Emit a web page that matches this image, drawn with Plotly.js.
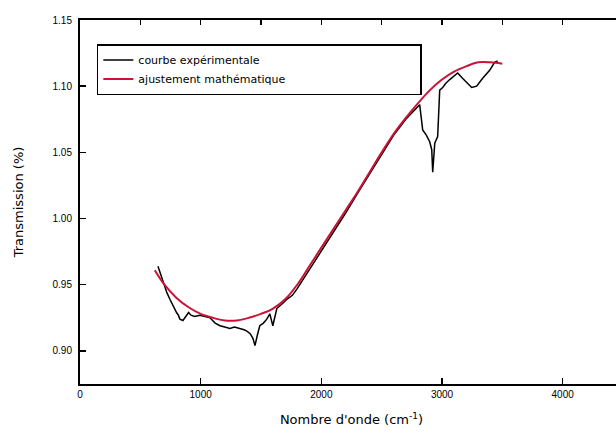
<!DOCTYPE html>
<html>
<head>
<meta charset="utf-8">
<script src="https://cdn.plot.ly/plotly-3.0.1.min.js"></script>
<style>
html,body{margin:0;padding:0;overflow:hidden;background:#fff;}
#chart{width:640px;height:435px;}
</style>
</head>
<body>
<div id="chart"></div>
<script>
// Experimental curve
var expX = [646, 660, 680, 700, 720, 745, 770, 785, 800, 815, 828, 853, 878, 900, 920, 950, 994, 1040, 1077, 1120, 1160, 1200, 1242, 1280, 1325, 1360, 1383, 1410, 1433, 1450, 1470, 1490, 1520, 1548, 1573, 1598, 1631, 1660, 1681, 1714, 1760, 1800, 1850, 1900, 1950, 2000, 2100, 2200, 2300, 2400, 2500, 2600, 2700, 2760, 2800, 2815, 2840, 2870, 2898, 2915, 2923, 2940, 2964, 2981, 3006, 3030, 3064, 3089, 3130, 3170, 3204, 3246, 3287, 3337, 3395, 3436, 3461];
var expY = [0.964, 0.960, 0.954, 0.948, 0.944, 0.939, 0.934, 0.931, 0.929, 0.927, 0.924, 0.923, 0.926, 0.929, 0.927, 0.926, 0.927, 0.926, 0.925, 0.921, 0.919, 0.918, 0.917, 0.918, 0.917, 0.916, 0.915, 0.913, 0.9095, 0.904, 0.912, 0.919, 0.921, 0.924, 0.928, 0.919, 0.932, 0.934, 0.936, 0.939, 0.942, 0.947, 0.954, 0.962, 0.969, 0.976, 0.990, 1.004, 1.019, 1.034, 1.049, 1.063, 1.075, 1.081, 1.085, 1.086, 1.067, 1.063, 1.058, 1.052, 1.035, 1.057, 1.062, 1.097, 1.099, 1.102, 1.105, 1.107, 1.110, 1.106, 1.103, 1.099, 1.100, 1.106, 1.112, 1.118, 1.119];
// Mathematical fit
var fitX = [620, 700, 800, 900, 1000, 1100, 1200, 1300, 1400, 1500, 1600, 1700, 1800, 1900, 2000, 2100, 2200, 2300, 2400, 2500, 2600, 2700, 2800, 2900, 3000, 3100, 3200, 3300, 3400, 3500];
var fitY = [0.961, 0.950, 0.940, 0.933, 0.928, 0.925, 0.923, 0.923, 0.925, 0.928, 0.932, 0.939, 0.950, 0.964, 0.978, 0.992, 1.006, 1.020, 1.035, 1.050, 1.064, 1.076, 1.087, 1.097, 1.105, 1.111, 1.115, 1.118, 1.118, 1.117];
var seriesNames = ["courbe expérimentale", "ajustement mathématique"];
var xTitle = "Nombre d'onde (cm<sup>-1</sup>)";
var yTitle = "Transmission (%)";

// pad legend labels so the boxed legend spans like the reference
var pad = new Array(38).join('\u00a0');

var traces = [
  {x: expX, y: expY, type: 'scatter', mode: 'lines', name: seriesNames[0] + pad,
   line: {color: '#000000', width: 1.5}},
  {x: fitX, y: fitY, type: 'scatter', mode: 'lines', name: seriesNames[1] + pad,
   line: {color: '#cc1236', width: 2, shape: 'spline'}},
  {x: [null], y: [null], xaxis: 'x2', showlegend: false, hoverinfo: 'skip'}
];

var tickFont = {family: 'Liberation Sans, Arial, sans-serif', size: 10, color: '#000'};
var layout = {
  width: 640, height: 435,
  margin: {l: 80, r: 17, t: 20, b: 51},
  paper_bgcolor: '#fff', plot_bgcolor: '#fff',
  showlegend: true,
  legend: {x: 0.031, y: 0.934, xanchor: 'left', yanchor: 'top',
    bordercolor: '#000', borderwidth: 1.5, bgcolor: '#fff',
    font: {family: 'DejaVu Sans, sans-serif', size: 11, color: '#000'}},
  xaxis: {range: [0, 4500], tick0: 0, dtick: 1000, ticks: 'inside', ticklen: 6,
    tickwidth: 1.5, tickcolor: '#000', showline: true, linecolor: '#000', linewidth: 2,
    showgrid: false, zeroline: false, tickfont: tickFont,
    title: {text: xTitle, font: {family: 'DejaVu Sans, sans-serif', size: 13, color: '#000'}, standoff: 16}},
  xaxis2: {overlaying: 'x', side: 'top', range: [0, 4500], tick0: 0, dtick: 500,
    ticks: 'inside', ticklen: 5, tickwidth: 1.5, tickcolor: '#000', showticklabels: false,
    showline: true, linecolor: '#000', linewidth: 2, showgrid: false, zeroline: false},
  yaxis: {range: [0.875, 1.15], tick0: 0.9, dtick: 0.05, tickformat: '.2f',
    ticks: 'inside', ticklen: 6, tickwidth: 1.5, tickcolor: '#000',
    showline: true, linecolor: '#000', linewidth: 2, showgrid: false, zeroline: false,
    tickfont: tickFont, ticklabelstandoff: 4,
    title: {text: yTitle, font: {family: 'DejaVu Sans, sans-serif', size: 13, color: '#000'}, standoff: 26}}
};
Plotly.newPlot('chart', traces, layout, {displayModeBar: false, staticPlot: true});
</script>
</body>
</html>
